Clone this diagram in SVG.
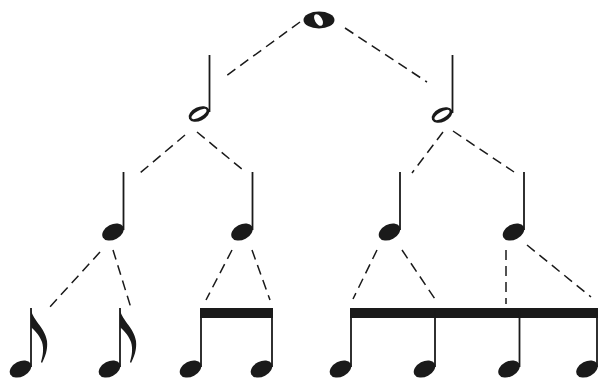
<svg xmlns="http://www.w3.org/2000/svg" xmlns:xlink="http://www.w3.org/1999/xlink" width="598" height="381" viewBox="0 0 598 381">
<style>
.dash{stroke:#1a1a1a;stroke-width:1.5;stroke-dasharray:10 6;fill:none}
.stem{stroke:#1a1a1a;stroke-width:1.8;fill:none}
.ink{fill:#1a1a1a}
.hole{fill:#fff}
</style>
<defs>
<ellipse id="qh" cx="0" cy="0" rx="11.5" ry="7.6" transform="rotate(-28)" class="ink"/>
<g id="hh">
<ellipse cx="0" cy="0" rx="11" ry="6.8" transform="rotate(-25)" class="ink"/>
<ellipse cx="0" cy="0" rx="8.6" ry="3.2" transform="rotate(-30)" class="hole"/>
</g>
<path id="flag" class="ink" d="M0,0 C0,11 14,19 16,33 C17,42 14,49 11,55 L10,54 C12,47 13,41 11,34 C8,26 3,22 0,19 Z"/>
</defs>
<rect width="598" height="381" fill="#fff"/>
<g id="connectors">
<line class="dash" x1="300" y1="22" x2="226" y2="76"/>
<line class="dash" x1="345" y1="28" x2="427" y2="82"/>
<line class="dash" x1="185" y1="135" x2="140" y2="173"/>
<line class="dash" x1="197" y1="132" x2="243" y2="170"/>
<line class="dash" x1="443" y1="132" x2="412" y2="173"/>
<line class="dash" x1="453" y1="131" x2="514" y2="172"/>
<line class="dash" x1="100" y1="252" x2="48" y2="309"/>
<line class="dash" x1="113" y1="250" x2="131" y2="308"/>
<line class="dash" x1="232" y1="250" x2="206" y2="300"/>
<line class="dash" x1="252" y1="250" x2="270" y2="300"/>
<line class="dash" x1="377" y1="250" x2="353" y2="299"/>
<line class="dash" x1="402" y1="250" x2="435" y2="299"/>
<line class="dash" x1="506" y1="250" x2="506" y2="304"/>
<line class="dash" x1="527" y1="245" x2="591" y2="297"/>
</g>
<g id="whole">
<ellipse cx="319" cy="20" rx="15.5" ry="8.5" class="ink"/>
<ellipse cx="318.5" cy="20" rx="3.6" ry="6.4" transform="rotate(-30 318.5 20)" class="hole"/>
</g>
<g id="half-left">
<line class="stem" x1="209.5" y1="55" x2="209.5" y2="112"/>
<use xlink:href="#hh" x="199" y="114"/>
</g>
<g id="half-right">
<line class="stem" x1="452.5" y1="55" x2="452.5" y2="113"/>
<use xlink:href="#hh" x="442" y="115"/>
</g>
<g id="quarter-1">
<line class="stem" x1="123.5" y1="172" x2="123.5" y2="230"/>
<use xlink:href="#qh" x="113" y="232"/>
</g>
<g id="quarter-2">
<line class="stem" x1="252.5" y1="172" x2="252.5" y2="230"/>
<use xlink:href="#qh" x="242" y="232"/>
</g>
<g id="quarter-3">
<line class="stem" x1="400" y1="172" x2="400" y2="230"/>
<use xlink:href="#qh" x="389.5" y="232"/>
</g>
<g id="quarter-4">
<line class="stem" x1="524" y1="172" x2="524" y2="230"/>
<use xlink:href="#qh" x="513.5" y="232"/>
</g>
<g id="eighth-1">
<line class="stem" x1="31" y1="308" x2="31" y2="367"/>
<use xlink:href="#flag" x="31" y="308"/>
<use xlink:href="#qh" x="20.5" y="369"/>
</g>
<g id="eighth-2">
<line class="stem" x1="120" y1="308" x2="120" y2="367"/>
<use xlink:href="#flag" x="120" y="308"/>
<use xlink:href="#qh" x="109.5" y="369"/>
</g>
<g id="beamed-pair">
<rect x="200" y="308" width="73" height="10" class="ink"/>
<line class="stem" x1="201" y1="310" x2="201" y2="367"/>
<line class="stem" x1="272" y1="310" x2="272" y2="367"/>
<use xlink:href="#qh" x="190.5" y="369"/>
<use xlink:href="#qh" x="261.5" y="369"/>
</g>
<g id="beamed-four">
<rect x="350" y="308" width="248" height="10" class="ink"/>
<line class="stem" x1="351" y1="310" x2="351" y2="367"/>
<line class="stem" x1="435" y1="310" x2="435" y2="367"/>
<line class="stem" x1="519.5" y1="310" x2="519.5" y2="367"/>
<line class="stem" x1="597" y1="310" x2="597" y2="367"/>
<use xlink:href="#qh" x="340.5" y="369"/>
<use xlink:href="#qh" x="424.5" y="369"/>
<use xlink:href="#qh" x="509" y="369"/>
<use xlink:href="#qh" x="587" y="369"/>
</g>
</svg>
